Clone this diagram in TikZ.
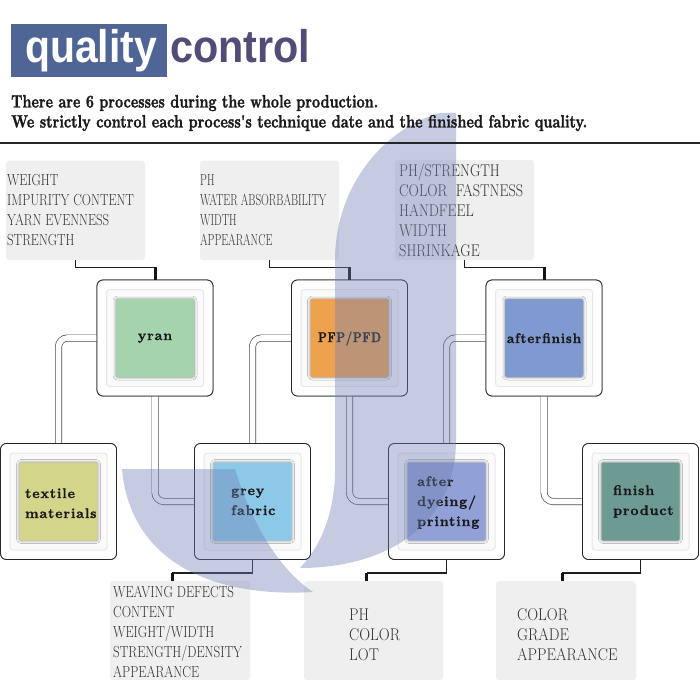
\documentclass[tikz,border=0pt]{standalone}
\usepackage{fontspec}
\usepackage{graphicx}
\usetikzlibrary{shadows.blur,calc}
\newfontfamily\hdsans{Liberation Sans}
\newfontfamily\labfont{lmroman10-bold.otf}[LetterSpace=6, FakeBold=1.2]
\newfontfamily\heavyserif{lmroman10-bold.otf}[FakeBold=1.6]
\newfontfamily\infofont{Latin Modern Roman}
\definecolor{hdblue}{RGB}{78,101,150}
\definecolor{hdpurple}{RGB}{82,77,118}
\definecolor{infogray}{RGB}{239,239,239}
\definecolor{shadecol}{RGB}{112,128,180}
\definecolor{cyran}{RGB}{165,211,174}
\definecolor{ctex}{RGB}{211,213,138}
\definecolor{cgrey}{RGB}{140,200,232}
\definecolor{cpfp}{RGB}{239,162,78}
\definecolor{cad}{RGB}{145,160,214}
\definecolor{caf}{RGB}{127,154,207}
\definecolor{cfp}{RGB}{110,154,148}
\newcommand{\mlines}[1]{\begin{tabular}[t]{@{}l@{}}#1\end{tabular}}
\newcommand{\itx}[3]{\infofont\fontsize{#1}{20}\selectfont\scalebox{#2}[1]{\mlines{#3}}}
\tikzset{
 obox/.style={draw=black!85, line width=0.8pt, fill=white, rounded corners=6pt, minimum width=116pt, minimum height=116pt, inner sep=0pt},
 ipanel/.style={draw=black!9, line width=1pt, fill=black!2, rounded corners=3pt, minimum size=97pt, inner sep=0pt},
 csq/.style={rounded corners=2pt, minimum size=78pt, inner sep=0pt, blur shadow={shadow xshift=0pt, shadow yshift=0pt, shadow blur radius=3pt, shadow blur steps=6, shadow opacity=45}},
 dbl/.style={draw=black!70, line width=0.7pt, double=white, double distance=5.6pt, rounded corners=9pt},
 icthin/.style={draw=black!88, line width=1.3pt},
 icthick/.style={draw=black!92, line width=3pt},
 ibox/.style={fill=infogray, rounded corners=3pt, inner sep=0pt},
 itext/.style={inner sep=0pt, anchor=base west, text=black!80},
 lab/.style={inner sep=0pt, text=black!90, font=\labfont\fontsize{14}{20}\selectfont},
}
\begin{document}
\begin{tikzpicture}[x=1pt,y=-1pt]
\useasboundingbox (0,0) rectangle (700,700);
\fill[white] (0,0) rectangle (700,700);

% header box
\fill[hdblue] (11,24) rectangle (167,77);

% info boxes
\node[ibox, minimum width=139pt, minimum height=99pt] (A) at (75.5,210.5) {};
\node[ibox, minimum width=139pt, minimum height=99pt] (B) at (269.5,210.5) {};
\node[ibox, minimum width=139pt, minimum height=100pt] (C) at (464.5,210) {};
\node[ibox, minimum width=140pt, minimum height=99pt] (D) at (180,630.5) {};
\node[ibox, minimum width=139pt, minimum height=99pt] (E) at (373.5,630.5) {};
\node[ibox, minimum width=140pt, minimum height=99pt] (F) at (566,630.5) {};

% process box anchors (outer boxes)
\node[obox] (yran) at (155,338) {};
\node[obox] (pfp) at (349.5,338) {};
\node[obox] (af) at (544,338) {};
\node[obox] (tex) at (58.5,501.5) {};
\node[obox] (grey) at (252.5,501.5) {};
\node[obox] (ad) at (446.5,501.5) {};
\node[obox] (fp) at (640.5,501.5) {};

% double connectors
\draw[dbl] (yran.west) -| (tex.north);
\draw[dbl] (yran.south) |- (grey.west);
\draw[dbl] (pfp.west) -| (grey.north);
\draw[dbl] (pfp.south) |- (ad.west);
\draw[dbl] (af.west) -| (ad.north);
\draw[dbl] (af.south) |- (fp.west);

% redraw outer boxes on top of connectors
\foreach \n in {yran,pfp,af,tex,grey,ad,fp}{
  \node[obox] at (\n.center) {};
  \node[ipanel] (\n-p) at (\n.center) {};
}
\node[csq, fill=cyran] (yran-s) at (yran.center) {};
\node[csq, fill=cpfp] (pfp-s) at (pfp.center) {};
\node[csq, fill=caf] (af-s) at (af.center) {};
\node[csq, fill=ctex] (tex-s) at (tex.center) {};
\node[csq, fill=cgrey] (grey-s) at (grey.center) {};
\node[csq, fill=cad] (ad-s) at (ad.center) {};
\node[csq, fill=cfp] (fp-s) at (fp.center) {};

% labels
\node[lab, anchor=base] (yran-t) at (155,340) {yran};
\node[lab, anchor=base] (pfp-t) at (349.5,342) {\scalebox{0.8}[1]{PFP/PFD}};
\node[lab, anchor=base] (af-t) at (544,343) {\scalebox{0.95}[1]{afterfinish}};
\node[lab, anchor=base west] (tex-t) at (25,498) {\mlines{textile\\materials}};
\node[lab, anchor=base west] (grey-t) at (231,495) {\mlines{grey\\fabric}};
\node[lab, anchor=base west] (ad-t) at (417,486) {\mlines{after\\dyeing/\\printing}};
\node[lab, anchor=base west] (fp-t) at (613,495) {\mlines{finish\\product}};

% info connectors (top)
\coordinate (ka) at ($(A.south)+(0,7)$);
\draw[icthin] (A.south) |- (yran.north |- ka);
\draw[icthick] (yran.north |- ka) -- (yran.north);
\coordinate (kb) at ($(B.south)+(0,7)$);
\draw[icthin] (B.south) |- (pfp.north |- kb);
\draw[icthick] (pfp.north |- kb) -- (pfp.north);
\coordinate (kc) at ($(C.south)+(0,7)$);
\draw[icthin] (C.south) |- (af.north |- kc);
\draw[icthick] (af.north |- kc) -- (af.north);

% info connectors (bottom)
\coordinate (d1) at ([xshift=-8pt]D.north);
\coordinate (e1) at ([xshift=-7pt]E.north);
\coordinate (f1) at ([xshift=-4pt]F.north);
\coordinate (kd) at ($(grey.south)+(0,13)$);
\draw[icthin] (grey.south) |- (d1 |- kd);
\draw[icthick] (d1 |- kd) -- (d1);
\coordinate (ke) at ($(ad.south)+(0,13)$);
\draw[icthin] (ad.south) |- (e1 |- ke);
\draw[icthick] (e1 |- ke) -- (e1);
\coordinate (kf) at ($(fp.south)+(0,13)$);
\draw[icthin] (fp.south) |- (f1 |- kf);
\draw[icthick] (f1 |- kf) -- (f1);

% info texts
\node[itext] (A-t) at (7,186) {\itx{16}{0.8}{WEIGHT\\IMPURITY CONTENT\\YARN EVENNESS\\STRENGTH}};
\node[itext] (B-t) at (200,186) {\itx{16}{0.68}{PH\\WATER ABSORBABILITY\\WIDTH\\APPEARANCE}};
\node[itext] (C-t) at (399,177) {\itx{17}{0.84}{PH/STRENGTH\\COLOR\ \ FASTNESS\\HANDFEEL\\WIDTH\\SHRINKAGE}};
\node[itext] (D-t) at (113,597) {\itx{16}{0.81}{WEAVING\ DEFECTS\\CONTENT\\WEIGHT/WIDTH\\STRENGTH/DENSITY\\APPEARANCE}};
\node[itext] (E-t) at (349,620) {\itx{17}{0.89}{PH\\COLOR\\LOT}};
\node[itext] (F-t) at (517,620) {\itx{17}{0.89}{COLOR\\GRADE\\APPEARANCE}};

% translucent swoosh
\fill[shadecol, fill opacity=0.4]
  (440,113) -- (456,113) -- (456,440)
  .. controls (456,530) and (380,568) .. (300,568)
  .. controls (322,545) and (335,510) .. (335,470)
  -- (335,260)
  .. controls (335,190) and (380,130) .. (440,113) -- cycle;
\fill[shadecol, fill opacity=0.4]
  (122,469) -- (235,469)
  .. controls (252,525) and (280,570) .. (313,592)
  .. controls (210,598) and (130,560) .. (122,469) -- cycle;

% header texts
\node[anchor=base west, inner sep=0pt, text=white] (q) at (25,63) {\hdsans\bfseries\fontsize{44}{44}\selectfont\scalebox{0.93}[1.04]{quality}};
\node[anchor=base west, inner sep=0pt, text=hdpurple] (c) at (170,63) {\hdsans\bfseries\fontsize{44}{44}\selectfont\scalebox{0.94}[1.04]{control}};
\node[anchor=base west, inner sep=0pt, text=black!90] (l1) at (11,107.5) {\resizebox{367pt}{12.5pt}{\heavyserif There are 6 processes during the whole production.}};
\node[anchor=base west, inner sep=0pt, text=black!90] (l2) at (11,127.5) {\resizebox{576pt}{12.5pt}{\heavyserif We strictly control each process's technique date and the finished fabric quality.}};
\draw[line width=2pt, black!85] (0,143) -- (700,143);
\end{tikzpicture}
\end{document}
